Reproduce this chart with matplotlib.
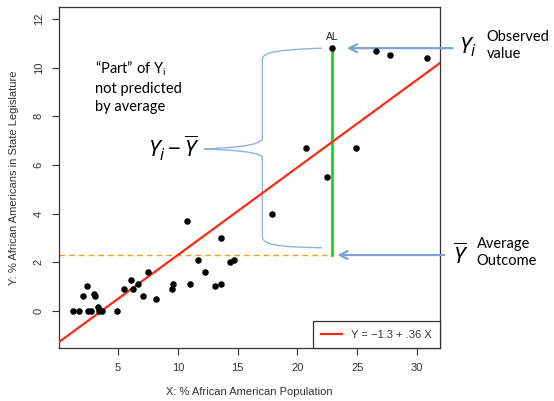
import numpy as np
import matplotlib
matplotlib.use('Agg')
import matplotlib.pyplot as plt
from matplotlib.path import Path
from matplotlib.patches import PathPatch

# data (x = % black population, y = % black legislators)
pop_pct = [1.2, 1.75, 2.1, 2.45, 2.5, 2.75, 3.0, 3.1, 3.3, 3.45, 3.7, 4.9,
           5.5, 6.1, 6.25, 6.7, 7.1, 7.5, 8.2, 9.5, 9.6, 10.8, 11.0, 11.7,
           12.3, 13.1, 13.6, 13.6, 14.4, 14.7, 17.9, 20.7, 22.5, 24.9,
           26.6, 27.7, 30.8]
leg_pct = [0.0, 0.0, 0.6, 1.03, 0.0, 0.0, 0.7, 0.6, 0.18, 0.0, 0.0, 0.0,
           0.9, 1.27, 0.9, 1.1, 0.6, 1.6, 0.5, 0.9, 1.1, 3.7, 1.1, 2.1,
           1.6, 1.03, 1.1, 3.0, 2.0, 2.1, 4.0, 6.7, 5.5, 6.7,
           10.7, 10.5, 10.4]
al_x, al_y = 22.9, 10.8       # Alabama, labelled point
y_bar = 2.3                   # mean of Y
intercept, slope = -1.3, 0.36
x_ticks = [5, 10, 15, 20, 25, 30]
y_ticks = [0, 2, 4, 6, 8, 10, 12]

blue = '#7ea3d2'
brace_col = '#8eb3e0'
axcol = '#333333'

plt.rcParams['font.family'] = ['Liberation Sans', 'DejaVu Sans']
plt.rcParams['mathtext.fontset'] = 'custom'
plt.rcParams['mathtext.it'] = 'Noto Sans:italic'
plt.rcParams['mathtext.rm'] = 'Noto Sans'

fig = plt.figure(figsize=(5.54, 4.01), dpi=100)
ax = fig.add_axes([0.1065, 0.1322, 0.6877, 0.8503])
ax.set_xlim(0.07, 31.92)
ax.set_ylim(-1.52, 12.49)

# mean line (dashed) up to AL, and residual from mean to AL
ax.plot([0.07, al_x], [y_bar, y_bar], color='#fa9a2a', lw=1.0, ls=(0, (4, 3)), zorder=1)
ax.plot([al_x, al_x], [y_bar, al_y], color='#11dd11', lw=2.0, zorder=2)

# regression line
xx = np.array([0.07, 31.92])
ax.plot(xx, intercept + slope * xx, color='#ff2a14', lw=1.6, zorder=3,
        label='Y = \u22121.3 + .36 X')

ax.scatter(pop_pct + [al_x], leg_pct + [al_y], s=22, color='black', zorder=4, linewidths=0)
ax.text(al_x, al_y + 0.25, 'AL', fontsize=7.5, color='#222222', ha='center', va='bottom')

# curly brace between AL and the mean
bx = al_x - 5.83       # vertical part of the brace
ex = al_x - 0.85       # open ends
tx = al_x - 10.7       # tip
ty = 6.66
verts = [(ex, al_y), (bx + 1.1, al_y - 0.08), (bx, al_y - 0.16), (bx, al_y - 0.48),
         (bx, ty + 0.45),
         (bx, ty + 0.12), (bx - 2.7, ty + 0.04), (tx, ty),
         (bx - 2.7, ty - 0.04), (bx, ty - 0.12), (bx, ty - 0.37),
         (bx, y_bar + 0.78),
         (bx, y_bar + 0.41), (bx + 1.2, y_bar + 0.33), (ex, y_bar + 0.3)]
codes = [Path.MOVETO, Path.CURVE4, Path.CURVE4, Path.CURVE4,
         Path.LINETO,
         Path.CURVE4, Path.CURVE4, Path.CURVE4,
         Path.CURVE4, Path.CURVE4, Path.CURVE4,
         Path.LINETO,
         Path.CURVE4, Path.CURVE4, Path.CURVE4]
ax.add_patch(PathPatch(Path(verts, codes), facecolor='none', edgecolor=brace_col, lw=1.0, zorder=2))

# annotation text
ax.text(3.1, 9.2, '\u201cPart\u201d of Y$\\mathregular{_i}$\nnot predicted\nby average',
        fontsize=10.5, family='Lato', ha='left', va='center', linespacing=1.35)
ax.text(tx - 0.4, ty, '$Y_i - \\overline{Y}$', fontsize=16, ha='right', va='center')

# arrows to observed value and to the mean
ax.annotate('', xy=(al_x + 1.0, al_y), xytext=(33.2, al_y), annotation_clip=False,
            arrowprops=dict(arrowstyle='->', color=blue, lw=1.6, mutation_scale=14))
ax.annotate('', xy=(al_x + 0.2, y_bar), xytext=(32.5, y_bar), annotation_clip=False,
            arrowprops=dict(arrowstyle='->', color=blue, lw=1.6, mutation_scale=14))
ax.text(33.5, al_y + 0.05, '$Y_i$', fontsize=16, ha='left', va='center', clip_on=False)
ax.text(35.8, al_y + 0.1, 'Observed\nvalue', fontsize=10.5, family='Lato', ha='left',
        va='center', linespacing=1.3, clip_on=False)
ax.text(33.0, y_bar - 0.05, '$\\overline{Y}$', fontsize=16, ha='left', va='center', clip_on=False)
ax.text(35.0, y_bar + 0.1, 'Average\nOutcome', fontsize=10.5, family='Lato', ha='left',
        va='center', linespacing=1.3, clip_on=False)

ax.set_xticks(x_ticks)
ax.set_yticks(y_ticks)
ax.tick_params(length=5, width=0.8, color=axcol, labelcolor=axcol, labelsize=8, pad=6)
ax.tick_params(axis='y', labelrotation=90)
for lab in ax.get_yticklabels():
    lab.set_va('center')
for sp in ax.spines.values():
    sp.set_color(axcol)
    sp.set_linewidth(0.9)

ax.set_xlabel('X: % African American Population', fontsize=8, color=axcol)
ax.set_ylabel('Y: % African Americans in State Legislature', fontsize=8, color=axcol)
ax.xaxis.set_label_coords(0.5, -0.115)
ax.yaxis.set_label_coords(-0.106, 0.5)

leg = ax.legend(loc='lower right', borderaxespad=0, fancybox=False, framealpha=1,
                edgecolor=axcol, fontsize=8, handlelength=1.9, borderpad=0.75,
                handletextpad=0.8)
for t in leg.get_texts():
    t.set_color(axcol)
leg.get_frame().set_linewidth(0.9)

plt.savefig('out.png', dpi=100)
